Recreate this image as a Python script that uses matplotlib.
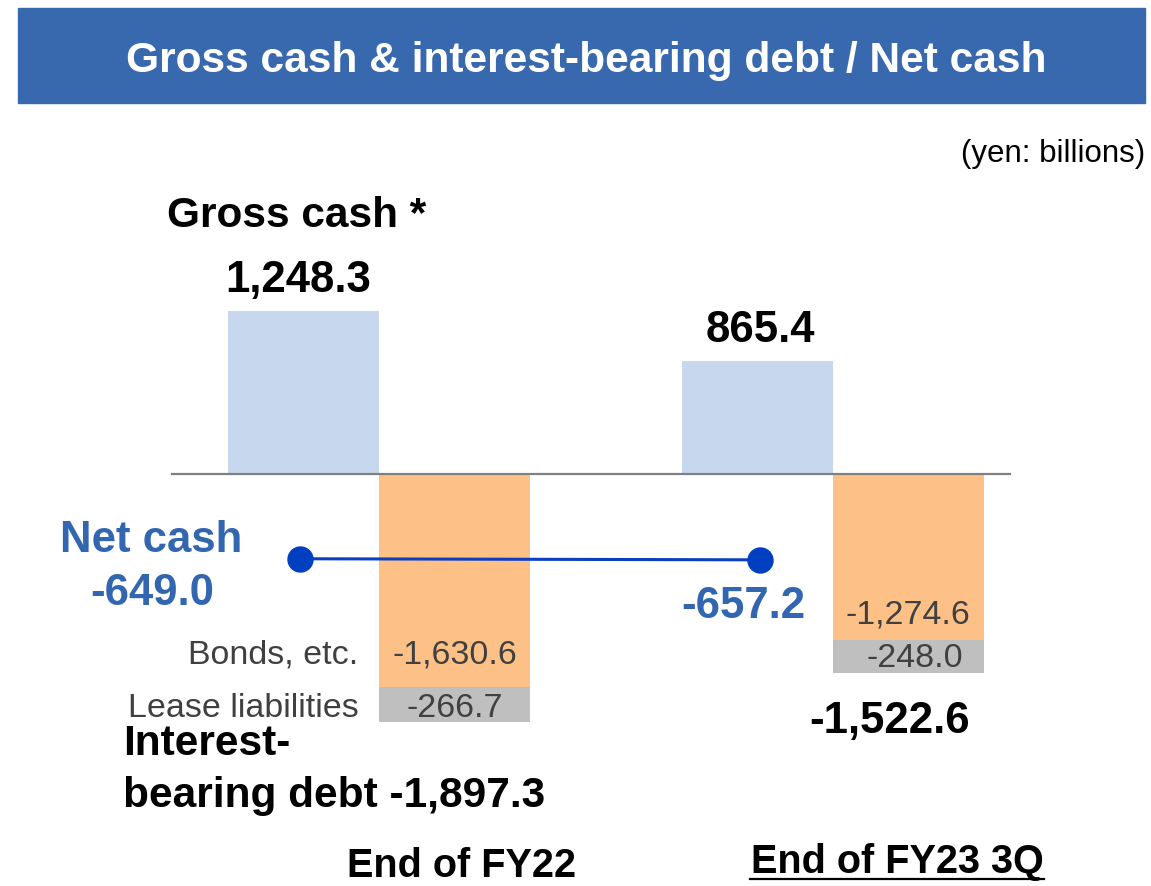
import matplotlib
matplotlib.use("Agg")
import matplotlib.pyplot as plt
from matplotlib.patches import Rectangle
from matplotlib.lines import Line2D
import numpy as np

# ---- data ----
periods = ["End of FY22", "End of FY23 3Q"]
gross_cash = [1248.3, 865.4]
bonds = [-1630.6, -1274.6]
lease = [-266.7, -248.0]
debt_total = [-1897.3, -1522.6]
net_cash = [-649.0, -657.2]

plt.rcParams['font.family'] = ['Liberation Sans', 'DejaVu Sans']

W, H = 1151, 886
fig = plt.figure(figsize=(W / 100, H / 100), dpi=100)

def fx(x):
    return x / W

def fy(y):
    return 1 - y / H

# banner
fig.patches.append(Rectangle((fx(18), fy(103)), fx(1145) - fx(18), fy(8) - fy(103),
                             transform=fig.transFigure, color="#3868AE", zorder=0))
fig.text(fx(586), fy(72), "Gross cash & interest-bearing debt / Net cash", color="white",
         fontsize=30.6, fontweight="bold", ha="center", va="baseline")

# axes: pixel-to-data scale
scale = 0.1306     # px per billion
zero_px = 474
group_px = 454
g0_px = 379
ax = fig.add_axes([0, 0, 1, 1])
ax.set_xlim(-g0_px / group_px, (W - g0_px) / group_px)
ax.set_ylim(-(H - zero_px) / scale, zero_px / scale)
ax.axis("off")

x = np.arange(len(periods))
bw = 151 / group_px
c_gross = "#C7D8EE"
c_bond = "#FDC188"
c_lease = "#BFBFBF"
ax.bar(x - bw / 2, gross_cash, width=bw, color=c_gross, zorder=2)
ax.bar(x + bw / 2, bonds, width=bw, color=c_bond, zorder=2)
ax.bar(x + bw / 2, lease, width=bw, bottom=bonds, color=c_lease, zorder=2)
ax.axhline(0, xmin=172 / W, xmax=1010 / W, color="#808080", lw=1.6, zorder=3)

ax.plot(x + np.array([-0.174, -0.161]), net_cash, color="#0A3FBF", lw=2.2, marker="o",
        markersize=18, markerfacecolor="#0040C0", markeredgecolor="#0040C0", zorder=4)

def fmt(v):
    return f"{v:,.1f}"

blue = "#3366B0"
dark = "#404040"
big = 31.5

fig.text(fx(1145), fy(162), "(yen: billions)", fontsize=22.5, ha="right", va="baseline", color="black")
fig.text(fx(167), fy(227), "Gross cash *", fontsize=30.5, fontweight="bold", ha="left", va="baseline")
fig.text(fx(298), fy(292), fmt(gross_cash[0]), fontsize=big, fontweight="bold", ha="center", va="baseline")
fig.text(fx(760), fy(342), fmt(gross_cash[1]), fontsize=big, fontweight="bold", ha="center", va="baseline")

fig.text(fx(60), fy(552), "Net cash", fontsize=big, fontweight="bold", color=blue, ha="left", va="baseline")
fig.text(fx(90), fy(605), fmt(net_cash[0]), fontsize=big, fontweight="bold", color=blue, ha="left", va="baseline")
fig.text(fx(681), fy(618), fmt(net_cash[1]), fontsize=big, fontweight="bold", color=blue, ha="left", va="baseline")

fig.text(fx(358), fy(663), "Bonds, etc.", fontsize=24.5, color=dark, ha="right", va="baseline")
fig.text(fx(359), fy(717), "Lease liabilities", fontsize=24.5, color=dark, ha="right", va="baseline")
fig.text(fx(455), fy(663), fmt(bonds[0]), fontsize=24.5, color=dark, ha="center", va="baseline")
fig.text(fx(455), fy(717), fmt(lease[0]), fontsize=24.5, color=dark, ha="center", va="baseline")
fig.text(fx(908), fy(623), fmt(bonds[1]), fontsize=24.5, color=dark, ha="center", va="baseline")
fig.text(fx(915), fy(667), fmt(lease[1]), fontsize=24.5, color=dark, ha="center", va="baseline")

fig.text(fx(890), fy(733), fmt(debt_total[1]), fontsize=big, fontweight="bold", ha="center", va="baseline")
fig.text(fx(123), fy(755), "Interest-", fontsize=30.5, fontweight="bold", ha="left", va="baseline")
fig.text(fx(123), fy(807), "bearing debt " + fmt(debt_total[0]), fontsize=30.5, fontweight="bold",
         ha="left", va="baseline")

fig.text(fx(462), fy(877), periods[0], fontsize=28.5, fontweight="bold", ha="center", va="baseline")
fig.text(fx(897), fy(873), periods[1], fontsize=28.5, fontweight="bold", ha="center", va="baseline")
fig.lines.append(Line2D([fx(750), fx(1044)], [fy(879), fy(879)], transform=fig.transFigure,
                        color="black", lw=1.6))

fig.savefig("out.png", dpi=100)
